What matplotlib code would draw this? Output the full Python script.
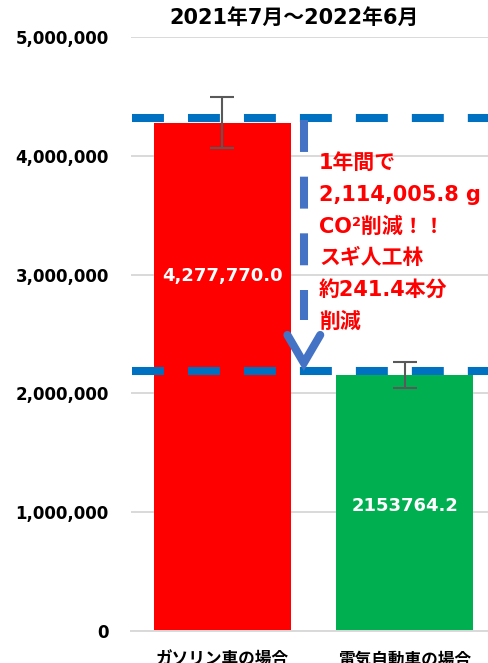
import matplotlib
matplotlib.use("Agg")
import matplotlib.pyplot as plt
from matplotlib.ticker import FuncFormatter

plt.rcParams['font.family'] = ['DejaVu Sans', 'Noto Sans CJK JP']
plt.rcParams['lines.scale_dashes'] = False

# データ
categories = ["ガソリン車の場合", "電気自動車の場合"]
values = [4277770.0, 2153764.2]
errors = [213889, 107688]
bar_labels = ["4,277,770.0", "2153764.2"]
bar_colors = ["#FF0000", "#00B050"]
label_y = [2990000, 1052000]
title = "2021年7月～2022年6月"
note_lines = ["1年間で", "2,114,005.8 g", "CO²削減！！", "スギ人工林", "約241.4本分", "削減"]
y_ticks = [0, 1000000, 2000000, 3000000, 4000000, 5000000]

fig = plt.figure(figsize=(4.88, 6.63), dpi=100)
ax = fig.add_axes([131 / 488, 32 / 663, 357 / 488, 594 / 663])

x = list(range(len(categories)))
ax.bar(x, values, width=0.75, color=bar_colors, zorder=2)
ax.errorbar(x, values, yerr=errors, fmt='none', ecolor='#595959',
            elinewidth=1.5, capsize=8.5, capthick=1.5, zorder=5)

for xi, yi, lab in zip(x, label_y, bar_labels):
    ax.text(xi, yi, lab, color='white', fontsize=13, fontweight='bold',
            ha='center', va='center', zorder=6)

# 点線（上と下）
dash_col = '#0070C0'
ax.plot([-0.494, 1.5], [4318000, 4318000], color=dash_col, lw=5.8,
        dashes=(23, 17.3), zorder=4, solid_capstyle='butt')
ax.plot([-0.494, 1.5], [2189000, 2189000], color=dash_col, lw=5.8,
        dashes=(23, 17.3), zorder=4, solid_capstyle='butt')

# 縦の点線と矢印
arr_col = '#4472C4'
ax.plot([0.447, 0.447], [4300000, 2620000], color=arr_col, lw=5.8,
        dashes=(23, 17.8), zorder=4)
ax.plot([0.357, 0.447, 0.537], [2492000, 2256000, 2492000], color=arr_col,
        lw=5.8, solid_capstyle='round', solid_joinstyle='miter', zorder=4)

# 注釈
note_y = [163, 195, 227, 258, 290, 322]
for line, py in zip(note_lines, note_y):
    ax.text(0.530, (631 - py) / 118.8 * 1e6, line, color='#FF0000',
            fontsize=15, fontweight='bold', ha='left', va='center', zorder=6)

ax.set_xlim(-0.5, -0.5 + 357 / 182.5)
ax.set_ylim(0, 5000000)
ax.set_yticks(y_ticks)
ax.yaxis.set_major_formatter(FuncFormatter(lambda v, p: f"{int(v):,}"))
ax.set_xticks(x)
ax.set_xticklabels(categories, fontsize=12, fontweight='bold')
for lab in ax.get_yticklabels():
    lab.set_fontsize(12)
    lab.set_fontweight('bold')
ax.tick_params(axis='y', length=0, pad=16)
ax.tick_params(axis='x', length=0, pad=14)
ax.grid(axis='y', color='#D9D9D9', lw=1.4, zorder=0)
ax.set_axisbelow(True)
for s in ['left', 'right', 'top']:
    ax.spines[s].set_visible(False)
ax.spines['bottom'].set_color('#D9D9D9')
ax.spines['bottom'].set_linewidth(1.4)

fig.text(294 / 488, 1 - 18 / 663, title, fontsize=15, fontweight='bold',
         ha='center', va='center')

fig.savefig("out.png", dpi=100)
